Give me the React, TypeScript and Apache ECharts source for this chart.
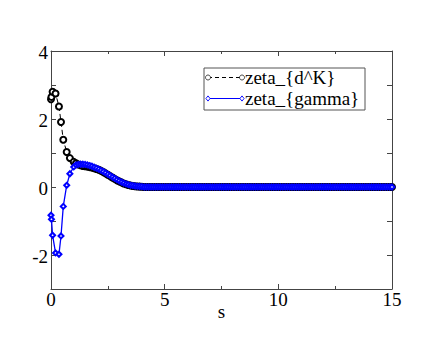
import React, { useEffect, useRef } from "react";
import * as echarts from "echarts";

const sValues = [
  0, 0.02, 0.07, 0.2, 0.35, 0.44, 0.54, 0.69, 0.83, 1.0,
  1.1, 1.2, 1.3, 1.4, 1.5, 1.6, 1.7, 1.8, 1.9, 2.0,
  2.1, 2.2, 2.3, 2.4, 2.5, 2.6, 2.7, 2.8, 2.9, 3.0,
  3.1, 3.2, 3.3, 3.4, 3.5, 3.6, 3.7, 3.8, 3.9, 4.0,
  4.1, 4.2, 4.3, 4.4, 4.5, 4.6, 4.7, 4.8, 4.9, 5.0,
  5.1, 5.2, 5.3, 5.4, 5.5, 5.6, 5.7, 5.8, 5.9, 6.0,
  6.1, 6.2, 6.3, 6.4, 6.5, 6.6, 6.7, 6.8, 6.9, 7.0,
  7.1, 7.2, 7.3, 7.4, 7.5, 7.6, 7.7, 7.8, 7.9, 8.0,
  8.1, 8.2, 8.3, 8.4, 8.5, 8.6, 8.7, 8.8, 8.9, 9.0,
  9.1, 9.2, 9.3, 9.4, 9.5, 9.6, 9.7, 9.8, 9.9, 10.0,
  10.1, 10.2, 10.3, 10.4, 10.5, 10.6, 10.7, 10.8, 10.9, 11.0,
  11.1, 11.2, 11.3, 11.4, 11.5, 11.6, 11.7, 11.8, 11.9, 12.0,
  12.1, 12.2, 12.3, 12.4, 12.5, 12.6, 12.7, 12.8, 12.9, 13.0,
  13.1, 13.2, 13.3, 13.4, 13.5, 13.6, 13.7, 13.8, 13.9, 14.0,
  14.1, 14.2, 14.3, 14.4, 14.5, 14.6, 14.7, 14.8, 14.9, 15.0,
];

const zetaDK = [
  2.58, 2.65, 2.8, 2.75, 2.37, 1.91, 1.39, 1.03, 0.85, 0.74,
  0.7, 0.66, 0.64, 0.62, 0.61, 0.6, 0.585, 0.57, 0.55, 0.53,
  0.505, 0.475, 0.44, 0.4, 0.36, 0.32, 0.28, 0.24, 0.2, 0.165,
  0.135, 0.105, 0.08, 0.06, 0.045, 0.03, 0.02, 0.015, 0.01, 0.005,
  0, 0, 0, 0, 0, 0, 0, 0, 0, 0,
  0, 0, 0, 0, 0, 0, 0, 0, 0, 0,
  0, 0, 0, 0, 0, 0, 0, 0, 0, 0,
  0, 0, 0, 0, 0, 0, 0, 0, 0, 0,
  0, 0, 0, 0, 0, 0, 0, 0, 0, 0,
  0, 0, 0, 0, 0, 0, 0, 0, 0, 0,
  0, 0, 0, 0, 0, 0, 0, 0, 0, 0,
  0, 0, 0, 0, 0, 0, 0, 0, 0, 0,
  0, 0, 0, 0, 0, 0, 0, 0, 0, 0,
  0, 0, 0, 0, 0, 0, 0, 0, 0, 0,
  0, 0, 0, 0, 0, 0, 0, 0, 0, 0,
];

const zetaGamma = [
  -0.83, -0.95, -1.42, -1.94, -1.98, -1.44, -0.57, 0.05, 0.39, 0.59,
  0.65, 0.665, 0.67, 0.67, 0.665, 0.65, 0.63, 0.61, 0.58, 0.555,
  0.525, 0.49, 0.455, 0.415, 0.375, 0.335, 0.295, 0.255, 0.215, 0.18,
  0.145, 0.115, 0.09, 0.07, 0.05, 0.04, 0.03, 0.02, 0.015, 0.01,
  0, 0, 0, 0, 0, 0, 0, 0, 0, 0,
  0, 0, 0, 0, 0, 0, 0, 0, 0, 0,
  0, 0, 0, 0, 0, 0, 0, 0, 0, 0,
  0, 0, 0, 0, 0, 0, 0, 0, 0, 0,
  0, 0, 0, 0, 0, 0, 0, 0, 0, 0,
  0, 0, 0, 0, 0, 0, 0, 0, 0, 0,
  0, 0, 0, 0, 0, 0, 0, 0, 0, 0,
  0, 0, 0, 0, 0, 0, 0, 0, 0, 0,
  0, 0, 0, 0, 0, 0, 0, 0, 0, 0,
  0, 0, 0, 0, 0, 0, 0, 0, 0, 0,
  0, 0, 0, 0, 0, 0, 0, 0, 0, 0,
];

const seriesNames = ["zeta_{d^K}", "zeta_{gamma}"];
const xAxisName = "s";
const xTickValues = [0, 5, 10, 15];
const xTickLabels = ["0", "5", "10", "15"];
const yTickValues = [-2, 0, 2, 4];
const yTickLabels = ["-2", "0", "2", "4"];

const FONT = "Liberation Serif";
const AXIS_COLOR = "#444";
const BLUE = "#0000ff";
const LABEL_SIZE = 19;

export default function App() {
  const ref = useRef<HTMLDivElement>(null);

  useEffect(() => {
    if (!ref.current) return;
    const chart = echarts.init(ref.current, null, { renderer: "svg" });

    const axisLine = { show: true, onZero: false, lineStyle: { color: AXIS_COLOR, width: 1 } };
    const tick = { show: true, inside: true, length: 5, lineStyle: { color: AXIS_COLOR } };
    const minor = { show: true, splitNumber: 2, length: 3, lineStyle: { color: AXIS_COLOR } };

    const pair = (arr: number[]) => sValues.map((s, i) => [s, arr[i]]);

    chart.setOption({
      animation: false,
      backgroundColor: "#fff",
      grid: { left: 51, right: 50, top: 51, bottom: 52 },
      legend: { show: false, data: seriesNames },
      xAxis: [
        {
          type: "value",
          min: 0,
          max: 15,
          interval: 5,
          axisLine,
          axisTick: tick,
          minorTick: minor,
          splitLine: { show: false },
          axisLabel: { show: false },
        },
        {
          type: "value",
          position: "top",
          min: 0,
          max: 15,
          interval: 5,
          axisLine,
          axisTick: tick,
          minorTick: minor,
          splitLine: { show: false },
          axisLabel: { show: false },
        },
      ],
      yAxis: [
        {
          type: "value",
          min: -3,
          max: 4,
          interval: 1,
          axisLine,
          axisTick: tick,
          splitLine: { show: false },
          axisLabel: { show: false },
        },
        {
          type: "value",
          position: "right",
          min: -3,
          max: 4,
          interval: 1,
          axisLine,
          axisTick: tick,
          splitLine: { show: false },
          axisLabel: { show: false },
        },
      ],
      series: [
        {
          name: seriesNames[0],
          type: "line",
          xAxisIndex: 0,
          yAxisIndex: 0,
          data: pair(zetaDK),
          symbol: "emptyCircle",
          symbolSize: 6,
          color: "#000",
          lineStyle: { color: "#000", width: 1, type: [5, 3] },
          itemStyle: { color: "#000", borderColor: "#000", borderWidth: 0.7 },
        },
        {
          name: seriesNames[1],
          type: "line",
          xAxisIndex: 0,
          yAxisIndex: 0,
          data: pair(zetaGamma),
          symbol: "emptyDiamond",
          symbolSize: 5,
          color: BLUE,
          lineStyle: { color: BLUE, width: 1.3 },
          itemStyle: { color: BLUE, borderColor: BLUE, borderWidth: 0.9 },
        },
      ],
    });

    const yMin = -3;
    const texts: any[] = [];
    xTickValues.forEach((v, i) => {
      const [px, py] = chart.convertToPixel({ xAxisIndex: 0, yAxisIndex: 0 }, [v, yMin]);
      texts.push({
        type: "text",
        x: px,
        y: py + 1,
        style: {
          text: xTickLabels[i],
          fontFamily: FONT,
          fontSize: LABEL_SIZE,
          fill: "#000",
          align: "center",
          verticalAlign: "top",
          textAlign: "center",
          textVerticalAlign: "top",
        },
      });
    });
    yTickValues.forEach((v, i) => {
      const [px, py] = chart.convertToPixel({ xAxisIndex: 0, yAxisIndex: 0 }, [0, v]);
      texts.push({
        type: "text",
        x: px - 3,
        y: py + 1,
        style: {
          text: yTickLabels[i],
          fontFamily: FONT,
          fontSize: LABEL_SIZE,
          fill: "#000",
          align: "right",
          verticalAlign: "middle",
          textAlign: "right",
          textVerticalAlign: "middle",
        },
      });
    });
    {
      const [px, py] = chart.convertToPixel({ xAxisIndex: 0, yAxisIndex: 0 }, [7.5, yMin]);
      texts.push({
        type: "text",
        x: px,
        y: py + 13,
        style: {
          text: xAxisName,
          fontFamily: FONT,
          fontSize: LABEL_SIZE,
          fill: "#000",
          align: "center",
          verticalAlign: "top",
          textAlign: "center",
          textVerticalAlign: "top",
        },
      });
    }

    const diamond = (cx: number, cy: number, r: number) => ({
      type: "polygon",
      shape: { points: [[cx, cy - r], [cx + r * 0.8, cy], [cx, cy + r], [cx - r * 0.8, cy]] },
      style: { fill: "#fff", stroke: BLUE, lineWidth: 0.9 },
    });

    const legendText = (text: string, y: number) => ({
      type: "text",
      x: 41,
      y,
      style: {
        text,
        fontFamily: FONT,
        fontSize: LABEL_SIZE,
        fill: "#000",
        align: "left",
        verticalAlign: "middle",
        textAlign: "left",
        textVerticalAlign: "middle",
      },
    });

    const legend = {
      type: "group",
      x: 204,
      y: 68,
      children: [
        {
          type: "rect",
          shape: { x: 0, y: 0, width: 161, height: 42 },
          style: { fill: "#fff", stroke: "#555", lineWidth: 1 },
        },
        {
          type: "line",
          shape: { x1: 4, y1: 9.5, x2: 38, y2: 9.5 },
          style: { stroke: "#000", lineWidth: 1, lineDash: [4, 3] },
        },
        { type: "circle", shape: { cx: 4, cy: 9.5, r: 2.5 }, style: { fill: "#fff", stroke: "#000", lineWidth: 0.7 } },
        { type: "circle", shape: { cx: 38, cy: 9.5, r: 2.5 }, style: { fill: "#fff", stroke: "#000", lineWidth: 0.7 } },
        legendText(seriesNames[0], 9.5),
        {
          type: "line",
          shape: { x1: 4, y1: 30.5, x2: 38, y2: 30.5 },
          style: { stroke: BLUE, lineWidth: 1.2 },
        },
        diamond(4, 30.5, 2.6),
        diamond(38, 30.5, 2.6),
        legendText(seriesNames[1], 30.5),
      ],
    };

    chart.setOption({ graphic: [...texts, legend] });

    return () => chart.dispose();
  }, []);

  return (
    <div
      ref={ref}
      style={{ position: "fixed", left: 0, top: 0, width: 442, height: 341 }}
    />
  );
}
